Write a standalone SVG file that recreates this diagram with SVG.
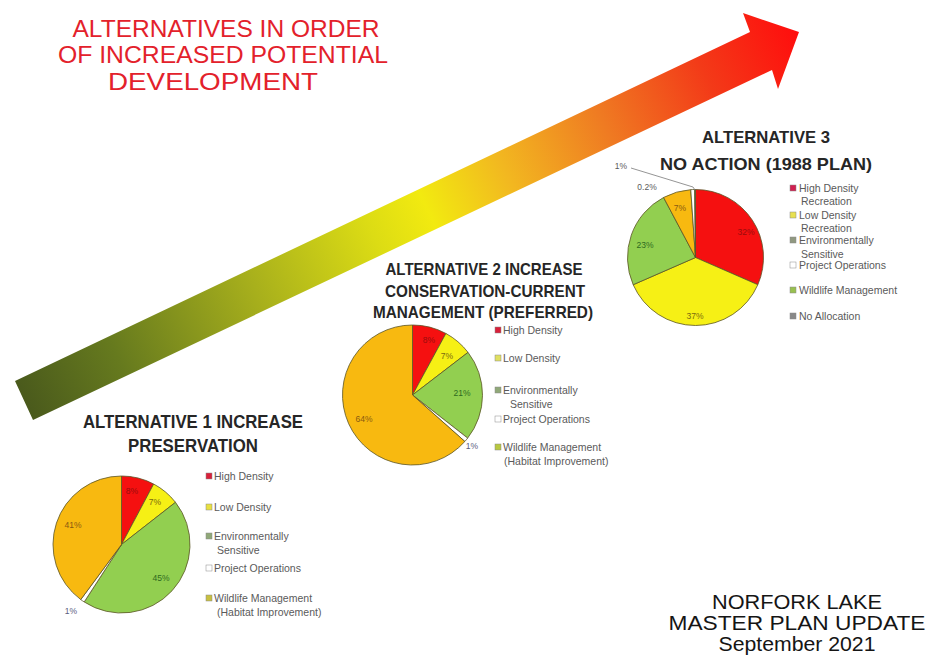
<svg xmlns="http://www.w3.org/2000/svg" width="927" height="671" viewBox="0 0 927 671">
<defs>
<linearGradient id="arrowGrad" gradientUnits="userSpaceOnUse" x1="24" y1="400" x2="799" y2="32">
<stop offset="0" stop-color="#4a5a1c"/>
<stop offset="0.12" stop-color="#667a1e"/>
<stop offset="0.3" stop-color="#a8b01c"/>
<stop offset="0.45" stop-color="#dcdc14"/>
<stop offset="0.52" stop-color="#f2ea10"/>
<stop offset="0.62" stop-color="#f2b820"/>
<stop offset="0.75" stop-color="#ef7a22"/>
<stop offset="0.88" stop-color="#f33a18"/>
<stop offset="1" stop-color="#ff0d0d"/>
</linearGradient>
<style>
.main{font-family:"Liberation Sans",Arial,sans-serif;font-size:24px;fill:#e3212b;text-anchor:middle}
.foot{font-family:"Liberation Sans",Arial,sans-serif;font-size:20px;fill:#151515;text-anchor:middle}
.at{font-family:"Liberation Sans",Arial,sans-serif;font-weight:bold;fill:#262626;text-anchor:middle}
.leg{font-family:"Liberation Sans",Arial,sans-serif;font-size:10.5px;fill:#5a5a5a}
.lbl{font-family:"Liberation Sans",Arial,sans-serif;font-size:8.5px;text-anchor:middle}
.sl{stroke:#5b5426;stroke-width:0.8}
.sq{stroke:#8a8a8a;stroke-width:0.5}
.red{fill:#f51010}.yel{fill:#f6f015}.grn{fill:#92cf50}.org{fill:#f8b910}.wht{fill:#ffffff}.gry{fill:#9a9a9a}
</style>
</defs>
<rect width="927" height="671" fill="#ffffff"/>

<g id="arrow">
<polygon points="15,381 750,32 743,13 799,32 778,89 772,70 33,420" fill="url(#arrowGrad)"/>
</g>

<g id="title">
<text class="main" x="226" y="37" textLength="307" lengthAdjust="spacingAndGlyphs">ALTERNATIVES IN ORDER</text>
<text class="main" x="223" y="63" textLength="330" lengthAdjust="spacingAndGlyphs">OF INCREASED POTENTIAL</text>
<text class="main" x="213" y="90" textLength="210" lengthAdjust="spacingAndGlyphs">DEVELOPMENT</text>
</g>

<g id="alt1">
<text class="at" x="193" y="428" font-size="18" textLength="220" lengthAdjust="spacingAndGlyphs">ALTERNATIVE 1 INCREASE</text>
<text class="at" x="193" y="452" font-size="18" textLength="130" lengthAdjust="spacingAndGlyphs">PRESERVATION</text>
<path class="sl red" d="M121.5,544.5 L121.5,476 A68.5,68.5 0 0 1 153.66,484.02 Z"/>
<path class="sl yel" d="M121.5,544.5 L153.66,484.02 A68.5,68.5 0 0 1 175.48,502.32 Z"/>
<path class="sl grn" d="M121.5,544.5 L175.48,502.32 A68.5,68.5 0 0 1 84.19,601.95 Z"/>
<path class="sl wht" d="M121.5,544.5 L84.19,601.95 A68.5,68.5 0 0 1 80.76,599.57 Z"/>
<path class="sl org" d="M121.5,544.5 L80.76,599.57 A68.5,68.5 0 0 1 121.5,476 Z"/>
<text class="lbl" x="132" y="494" fill="#9a0c0c">8%</text>
<text class="lbl" x="155" y="505" fill="#7a6a10">7%</text>
<text class="lbl" x="161" y="581" fill="#2f6a20">45%</text>
<text class="lbl" x="73" y="528" fill="#8a5a10">41%</text>
<text class="lbl" x="71" y="614" fill="#5a6080">1%</text>
<rect class="sq" x="206" y="473" width="6" height="6" fill="#d8203a"/>
<text class="leg" x="214" y="480">High Density</text>
<rect class="sq" x="206" y="504" width="6" height="6" fill="#e8e040"/>
<text class="leg" x="214" y="511">Low Density</text>
<rect class="sq" x="206" y="533" width="6" height="6" fill="#90a878"/>
<text class="leg" x="214" y="540">Environmentally</text>
<text class="leg" x="217" y="554">Sensitive</text>
<rect class="sq" x="206" y="565" width="6" height="6" fill="#ffffff"/>
<text class="leg" x="214" y="572">Project Operations</text>
<rect class="sq" x="206" y="595" width="6" height="6" fill="#c8c040"/>
<text class="leg" x="214" y="602">Wildlife Management</text>
<text class="leg" x="217" y="616">(Habitat Improvement)</text>
</g>

<g id="alt2">
<text class="at" x="484" y="275" font-size="17" textLength="197" lengthAdjust="spacingAndGlyphs">ALTERNATIVE 2 INCREASE</text>
<text class="at" x="485" y="297" font-size="17" textLength="200" lengthAdjust="spacingAndGlyphs">CONSERVATION-CURRENT</text>
<text class="at" x="483" y="318" font-size="17" textLength="220" lengthAdjust="spacingAndGlyphs">MANAGEMENT (PREFERRED)</text>
<path class="sl red" d="M412.5,395 L412.5,325 A70,70 0 0 1 445.9,333.48 Z"/>
<path class="sl yel" d="M412.5,395 L445.9,333.48 A70,70 0 0 1 468.04,352.38 Z"/>
<path class="sl grn" d="M412.5,395 L468.04,352.38 A70,70 0 0 1 467.66,438.1 Z"/>
<path class="sl wht" d="M412.5,395 L467.66,438.1 A70,70 0 0 1 464.85,441.47 Z"/>
<path class="sl org" d="M412.5,395 L464.85,441.47 A70,70 0 1 1 412.5,325 Z"/>
<text class="lbl" x="429" y="343" fill="#9a0c0c">8%</text>
<text class="lbl" x="447" y="359" fill="#7a6a10">7%</text>
<text class="lbl" x="462" y="396" fill="#2f6a20">21%</text>
<text class="lbl" x="364" y="422" fill="#8a5a10">64%</text>
<text class="lbl" x="472" y="449" fill="#5a6080">1%</text>
<rect class="sq" x="495" y="327" width="6" height="6" fill="#d8203a"/>
<text class="leg" x="503" y="334" font-size="11">High Density</text>
<rect class="sq" x="495" y="355" width="6" height="6" fill="#e0e060"/>
<text class="leg" x="503" y="362" font-size="11">Low Density</text>
<rect class="sq" x="495" y="387" width="6" height="6" fill="#90a878"/>
<text class="leg" x="503" y="394" font-size="11">Environmentally</text>
<text class="leg" x="510" y="408" font-size="11">Sensitive</text>
<rect class="sq" x="495" y="416" width="6" height="6" fill="#ffffff"/>
<text class="leg" x="503" y="423" font-size="11">Project Operations</text>
<rect class="sq" x="495" y="444" width="6" height="6" fill="#b8c840"/>
<text class="leg" x="503" y="451" font-size="11">Wildlife Management</text>
<text class="leg" x="504" y="465" font-size="11">(Habitat Improvement)</text>
</g>

<g id="alt3">
<text class="at" x="766" y="143" font-size="17" textLength="128" lengthAdjust="spacingAndGlyphs">ALTERNATIVE 3</text>
<text class="at" x="766" y="170" font-size="17" textLength="212" lengthAdjust="spacingAndGlyphs">NO ACTION (1988 PLAN)</text>
<path class="sl red" d="M695.5,257.5 L695.5,189.5 A68,68 0 0 1 757.82,284.72 Z"/>
<path class="sl yel" d="M695.5,257.5 L757.82,284.72 A68,68 0 0 1 633.18,284.72 Z"/>
<path class="sl grn" d="M695.5,257.5 L633.18,284.72 A68,68 0 0 1 663.57,197.46 Z"/>
<path class="sl org" d="M695.5,257.5 L663.57,197.46 A68,68 0 0 1 690.75,189.66 Z"/>
<path class="sl wht" d="M695.5,257.5 L690.75,189.66 A68,68 0 0 1 694.67,189.5 Z"/>
<path class="sl gry" d="M695.5,257.5 L694.67,189.5 A68,68 0 0 1 695.5,189.5 Z"/>
<text class="lbl" x="746" y="235" fill="#9a0c0c">32%</text>
<text class="lbl" x="695" y="319" fill="#7a6a10">37%</text>
<text class="lbl" x="645" y="248" fill="#2f6a20">23%</text>
<text class="lbl" x="680" y="211" fill="#8a5a10">7%</text>
<text class="lbl" x="647" y="190" fill="#5a5a5a">0.2%</text>
<text class="lbl" x="621" y="169" fill="#5a5a5a">1%</text>
<rect class="sq" x="790" y="185" width="6" height="6" fill="#d02050"/>
<text class="leg" x="799" y="192">High Density</text>
<text class="leg" x="801" y="205">Recreation</text>
<rect class="sq" x="790" y="212" width="6" height="6" fill="#e8e050"/>
<text class="leg" x="799" y="219">Low Density</text>
<text class="leg" x="801" y="232">Recreation</text>
<rect class="sq" x="790" y="237" width="6" height="6" fill="#909880"/>
<text class="leg" x="799" y="244">Environmentally</text>
<text class="leg" x="801" y="258">Sensitive</text>
<rect class="sq" x="790" y="262" width="6" height="6" fill="#ffffff"/>
<text class="leg" x="799" y="269">Project Operations</text>
<rect class="sq" x="790" y="287" width="6" height="6" fill="#98c050"/>
<text class="leg" x="799" y="294">Wildlife Management</text>
<rect class="sq" x="790" y="313" width="6" height="6" fill="#888888"/>
<text class="leg" x="799" y="320">No Allocation</text>
</g>

<g id="connectors">
<polyline points="631,168 693,187 695,190" fill="none" stroke="#7a7a7a" stroke-width="0.8"/>
</g>

<g id="footer">
<text class="foot" x="797" y="609" textLength="170" lengthAdjust="spacingAndGlyphs">NORFORK LAKE</text>
<text class="foot" x="797" y="630" textLength="257" lengthAdjust="spacingAndGlyphs">MASTER PLAN UPDATE</text>
<text class="foot" x="797" y="651" textLength="157" lengthAdjust="spacingAndGlyphs">September 2021</text>
</g>
</svg>
